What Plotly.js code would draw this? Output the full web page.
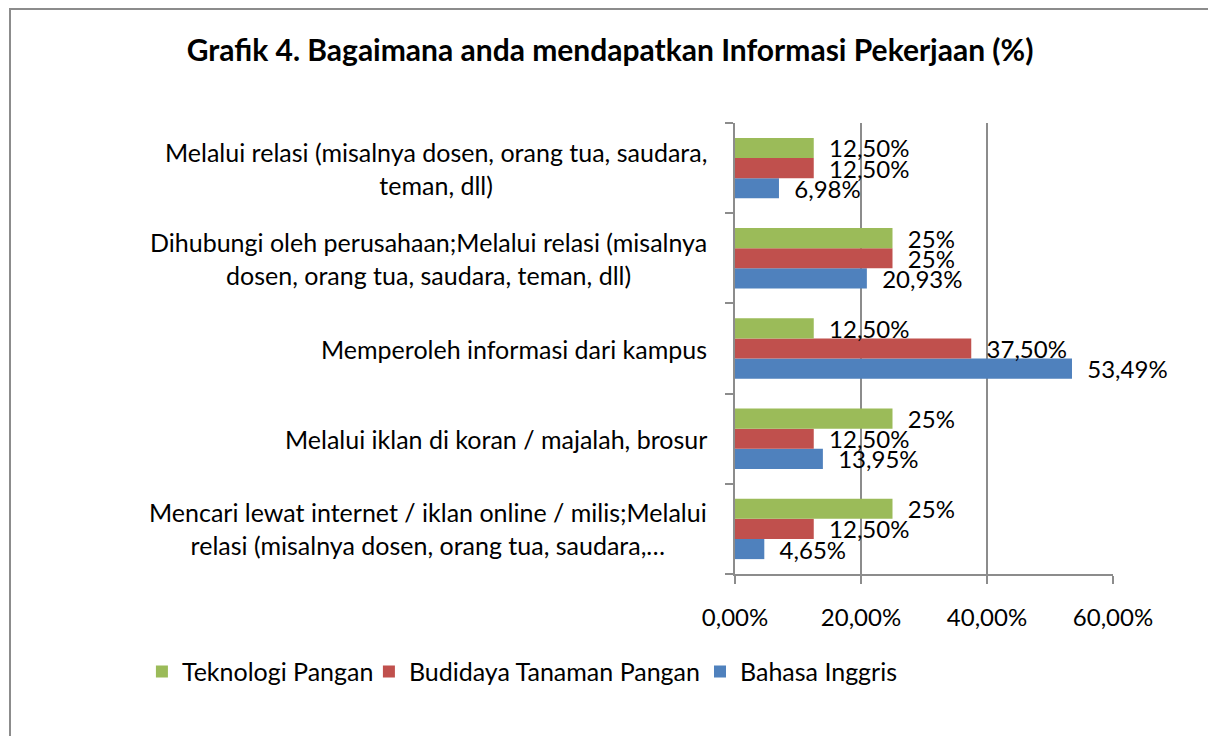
<!DOCTYPE html>
<html>
<head>
<meta charset="utf-8">
<script src="https://cdn.plot.ly/plotly-3.0.1.min.js"></script>
<style>
  html, body { margin:0; padding:0; background:#fff; }
  #wrap { position:relative; width:1208px; height:736px; overflow:hidden; }
  #chart { position:absolute; left:0; top:0; width:1208px; height:736px; }
  #frame { position:absolute; left:9px; top:8px; width:1300px; height:900px;
           border-left:2px solid #8c8c8c; border-top:2px solid #8c8c8c; pointer-events:none; }
</style>
</head>
<body>
<div id="wrap">
  <div id="chart"></div>
  <div id="frame"></div>
</div>
<script>
// Categories, bottom to top as drawn on the axis
const categories = [
  "Mencari lewat internet / iklan online / milis;Melalui<br>relasi (misalnya dosen, orang tua, saudara,…",
  "Melalui iklan di koran / majalah, brosur",
  "Memperoleh informasi dari kampus",
  "Dihubungi oleh perusahaan;Melalui relasi (misalnya<br>dosen, orang tua, saudara, teman, dll)",
  "Melalui relasi (misalnya dosen, orang tua, saudara,<br>teman, dll)"
];
const seriesNames = ["Bahasa Inggris", "Budidaya Tanaman Pangan", "Teknologi Pangan"];
const bahasaInggris = [4.65, 13.95, 53.49, 20.93, 6.98];
const budidaya      = [12.5, 12.5, 37.5, 25, 12.5];
const teknologi     = [25, 25, 12.5, 25, 12.5];
const xTickVals  = [0, 20, 40, 60];
const xTickText  = ["0,00%", "20,00%", "40,00%", "60,00%"];
const colors = ["#4F81BD", "#C0504D", "#9BBB59"];

const FONT = "Lato, 'Open Sans', sans-serif";

function fmt(v) {
  return (Number.isInteger(v) ? String(v) : v.toFixed(2).replace(".", ",")) + "%";
}

const legendIds = ["legend3", "legend2", "legend"];
const legendX = { legend: -1.569, legend2: -0.9685, legend3: -0.0926 };

const seriesValues = [bahasaInggris, budidaya, teknologi];
const traces = seriesValues.map((vals, i) => ({
  type: "bar",
  orientation: "h",
  name: seriesNames[i],
  legend: legendIds[i],
  y: categories,
  x: vals,
  marker: { color: colors[i] },
  text: vals.map(fmt),
  texttemplate: "\u00a0\u00a0%{text}",
  textposition: "outside",
  constraintext: "none",
  cliponaxis: false,
  textfont: { family: FONT, size: 24, color: "#000" },
  hoverinfo: "skip"
}));

const annotations = categories.map(c => ({
  xref: "paper", yref: "y",
  x: 0, y: c, xshift: -26,
  xanchor: "right", yanchor: "middle",
  align: "center",
  text: c,
  showarrow: false,
  font: { family: FONT, size: 25, color: "#000" }
}));

function legendDef(id) {
  return {
    orientation: "h",
    x: legendX[id], xanchor: "left",
    y: -0.217, yanchor: "middle",
    bgcolor: "rgba(0,0,0,0)",
    font: { family: FONT, size: 25, color: "#000" },
    itemwidth: 30,
    itemclick: false, itemdoubleclick: false
  };
}

const layout = {
  width: 1208, height: 736,
  margin: { l: 735, r: 95, t: 123, b: 162, pad: 0 },
  paper_bgcolor: "rgba(0,0,0,0)",
  plot_bgcolor: "rgba(0,0,0,0)",
  font: { family: FONT, size: 24, color: "#000" },
  title: {
    text: "<b>Grafik 4. Bagaimana anda mendapatkan Informasi Pekerjaan (%)</b>",
    font: { family: FONT, size: 30, color: "#000" },
    xref: "container", yref: "container",
    x: 0.505, y: 1 - 50 / 736, xanchor: "center", yanchor: "middle"
  },
  barmode: "group",
  bargap: 0.33,
  bargroupgap: 0,
  showlegend: true,
  legend: legendDef("legend"),
  legend2: legendDef("legend2"),
  legend3: legendDef("legend3"),
  xaxis: {
    range: [0, 60],
    tickvals: xTickVals,
    ticktext: xTickText,
    showgrid: true, gridcolor: "#8c8c8c", gridwidth: 2,
    zeroline: false,
    showline: true, linecolor: "#8c8c8c", linewidth: 2,
    ticks: "outside", ticklen: 8, tickcolor: "#8c8c8c", tickwidth: 2,
    ticklabelstandoff: 13,
    tickfont: { family: FONT, size: 24, color: "#000" },
    fixedrange: true
  },
  yaxis: {
    type: "category",
    categoryorder: "array",
    categoryarray: categories,
    showgrid: false, zeroline: false,
    showline: true, linecolor: "#8c8c8c", linewidth: 2,
    ticks: "outside", ticklen: 8, tickcolor: "#8c8c8c", tickwidth: 2,
    tickson: "boundaries",
    showticklabels: false,
    fixedrange: true
  },
  annotations: annotations
};

Plotly.newPlot("chart", traces, layout, { displayModeBar: false, staticPlot: true });
</script>
</body>
</html>
